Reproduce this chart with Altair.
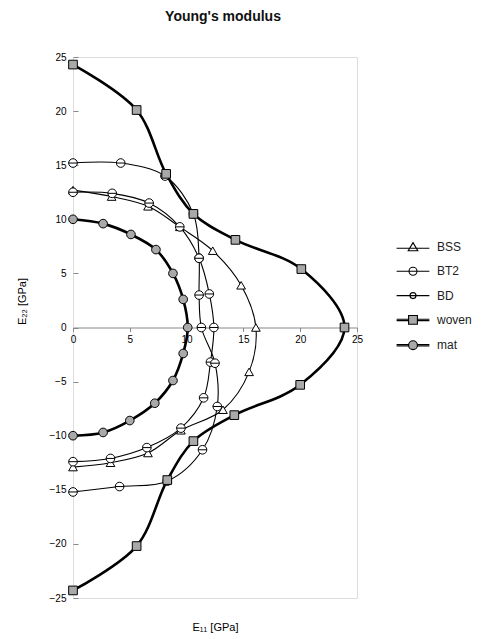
import altair as alt
import pandas as pd

# ---- data ----
series = ["BSS", "BT2", "BD", "woven", "mat"]
thin_series = ["BSS", "BT2", "BD"]
thick_series = ["woven", "mat"]

bss_x = [0, 3.4, 6.6, 9.4, 12.3, 14.8, 16.1, 15.5, 13.2, 9.5, 6.6, 3.3, 0]
bss_y = [12.7, 12.1, 11.2, 9.3, 7.1, 3.9, 0, -4.1, -7.6, -9.5, -11.6, -12.5, -12.9]

bt2_x = [0, 3.45, 6.7, 9.4, 11.1, 12.0, 12.4, 12.1, 11.5, 9.5, 6.5, 3.3, 0]
bt2_y = [12.5, 12.4, 11.5, 9.3, 6.4, 3.1, 0, -3.2, -6.5, -9.3, -11.1, -12.1, -12.4]

bd_x = [0, 4.2, 8.1, 10.6, 11.1, 11.1, 11.3, 12.5, 12.7, 11.4, 8.3, 4.1, 0]
bd_y = [15.2, 15.2, 14.0, 10.5, 6.4, 3.0, 0, -3.3, -7.3, -11.3, -14.2, -14.7, -15.2]

woven_x = [0, 5.6, 8.2, 10.6, 14.3, 20.1, 23.9, 20.0, 14.2, 10.6, 8.3, 5.6, 0]
woven_y = [24.3, 20.1, 14.2, 10.5, 8.1, 5.4, 0, -5.3, -8.1, -10.5, -14.1, -20.2, -24.3]

mat_x = [0, 2.65, 5.1, 7.3, 8.8, 9.7, 10.1, 9.7, 8.8, 7.2, 5.0, 2.65, 0]
mat_y = [10.0, 9.6, 8.6, 7.2, 5.0, 2.6, 0, -2.4, -4.9, -7.0, -8.6, -9.7, -10.0]

x_ticks = [0, 5, 10, 15, 20, 25]
y_ticks = [-25, -20, -15, -10, -5, 0, 5, 10, 15, 20, 25]

rows = []
for name, xs, ys in [("BSS", bss_x, bss_y), ("BT2", bt2_x, bt2_y), ("BD", bd_x, bd_y),
                     ("woven", woven_x, woven_y), ("mat", mat_x, mat_y)]:
    for i, (xv, yv) in enumerate(zip(xs, ys)):
        rows.append({"series": name, "E11": xv, "E22": yv, "idx": i})
df = pd.DataFrame(rows)
legend_df = pd.DataFrame({"series": series})

# ---- styles ----
FONT = "Liberation Sans"
W, H = 284, 541
circle_bar = "M1 0A1 1 0 1 1 -1 0A1 1 0 1 1 1 0ZM-1 0L1 0"
marker_shapes = ["triangle-up", circle_bar, circle_bar, "square", "circle"]
marker_sizes = [75, 75, 40, 90, 80]
marker_fills = ["white", "white", "white", "#a9a9a9", "#a9a9a9"]
thick_stub = "M-4.1 -0.17L-1.1 -0.17M1.1 -0.17L4.1 -0.17M-4.1 0.17L-1.1 0.17M1.1 0.17L4.1 0.17"
legend_paths = [
    "M-4.1 0.3L4.1 0.3M0 -1.1L1.2 0.95L-1.2 0.95Z",
    "M-4.1 0L4.1 0M1 0A1 1 0 1 1 -1 0A1 1 0 1 1 1 0Z",
    "M-4.1 0L4.1 0M0.75 0A0.75 0.75 0 1 1 -0.75 0A0.75 0.75 0 1 1 0.75 0Z",
    thick_stub + "M-1.1 -1.1L1.1 -1.1L1.1 1.1L-1.1 1.1Z",
    thick_stub + "M1.1 0A1.1 1.1 0 1 1 -1.1 0A1.1 1.1 0 1 1 1.1 0Z",
]

xenc = alt.X(
    "E11:Q",
    scale=alt.Scale(domain=[0, 25], nice=False, zero=False),
    axis=alt.Axis(
        values=x_ticks, offset=-H / 2, grid=False, title="E₁₁ [GPa]",
        titleY=H / 2 + 29, titleBaseline="middle", titleFontWeight="normal",
        tickSize=4, labelPadding=3, labelFlush=False,
    ),
)
yenc = alt.Y(
    "E22:Q",
    scale=alt.Scale(domain=[-25, 25], nice=False, zero=False),
    axis=alt.Axis(
        values=y_ticks, grid=False, title="E₂₂ [GPa]", domain=False,
        offset=-5, tickSize=5, labelPadding=7,
        titleX=-56, titleY=244, titleAngle=270, titleAlign="center",
        titleBaseline="middle", titleFontWeight="normal",
    ),
)

thin_lines = alt.Chart(df).transform_filter(
    alt.FieldOneOfPredicate(field="series", oneOf=thin_series)
).mark_line(interpolate="catmull-rom", color="black", strokeWidth=1.1).encode(
    x=xenc, y=yenc, order=alt.Order("idx:Q"), detail="series:N",
)

thick_lines = alt.Chart(df).transform_filter(
    alt.FieldOneOfPredicate(field="series", oneOf=thick_series)
).mark_line(interpolate="catmull-rom", color="black", strokeWidth=2.6).encode(
    x=xenc, y=yenc, order=alt.Order("idx:Q"), detail="series:N",
)

points = alt.Chart(df).mark_point(filled=True, stroke="black", strokeWidth=1, opacity=1).encode(
    x=xenc, y=yenc,
    shape=alt.Shape("series:N", scale=alt.Scale(domain=series, range=marker_shapes), legend=None),
    fill=alt.Fill("series:N", scale=alt.Scale(domain=series, range=marker_fills), legend=None),
    size=alt.Size("series:N", scale=alt.Scale(domain=series, range=marker_sizes), legend=None),
)

leg = alt.Legend(
    title=None, orient="none", legendX=334, legendY=184, padding=0,
    labelFont=FONT, labelFontSize=12, labelColor="#222", labelOffset=18,
    rowPadding=11.3, symbolSize=64, symbolStrokeWidth=1.1,
)
legend_layer = alt.Chart(legend_df).mark_point(
    filled=True, size=64, opacity=1, strokeWidth=1.1, clip=True
).encode(
    x=alt.value(-2000), y=alt.value(-2000),
    shape=alt.Shape("series:N", scale=alt.Scale(domain=series, range=legend_paths), legend=leg),
    fill=alt.Fill("series:N", scale=alt.Scale(domain=series, range=marker_fills), legend=leg),
    stroke=alt.Stroke("series:N", scale=alt.Scale(domain=series, range=["black"] * 5), legend=leg),
)

chart = alt.layer(thin_lines, thick_lines, points, legend_layer).resolve_scale(
    shape="independent", fill="independent", stroke="independent"
).properties(
    width=W, height=H,
    title=alt.TitleParams("Young's modulus", font=FONT, fontSize=14, fontWeight="bold",
                          anchor="middle", dx=8, offset=17, baseline="alphabetic", color="#111"),
    autosize=alt.AutoSizeParams(type="none"),
    padding={"left": 73, "top": 57, "right": 130, "bottom": 41},
).configure_view(
    stroke="#999", strokeWidth=1
).configure_axis(
    labelFont=FONT, labelFontSize=12, labelColor="#222", titleFont=FONT, titleFontSize=12,
    titleColor="#222", domainColor="#999", tickColor="#999",
).configure(background="white")

chart.save("out.html", embed_options={"renderer": "svg", "actions": False})
